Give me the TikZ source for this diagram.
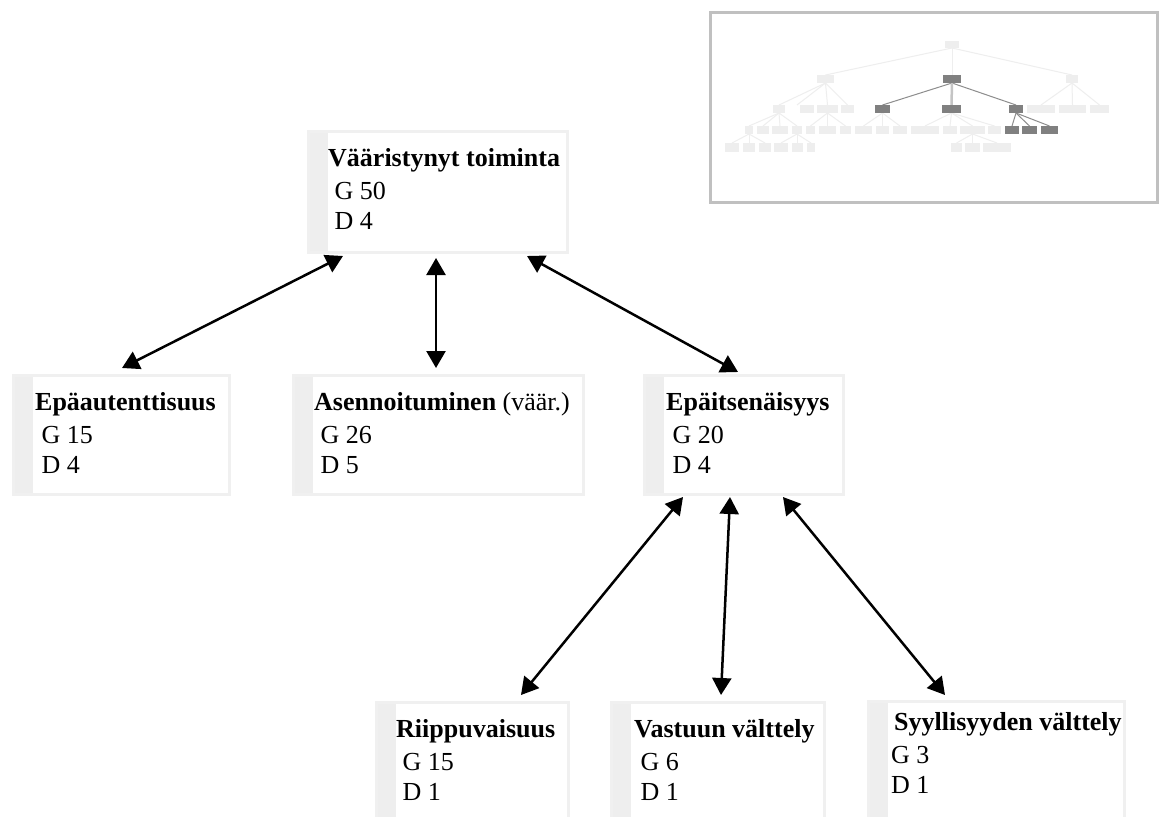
\documentclass[tikz,border=0pt]{standalone}
\usepackage{fontspec}
\setmainfont{Liberation Serif}
\usetikzlibrary{arrows.meta,calc}
\definecolor{boxline}{HTML}{F0F0F0}
\definecolor{stripc}{HTML}{EEEEEE}
\definecolor{mmlight}{HTML}{EEEEEE}
\definecolor{mmdark}{HTML}{808080}
\definecolor{mmframe}{HTML}{C0C0C0}
\definecolor{mmmid}{HTML}{C4C4C4}
\newcommand{\ind}{\hspace*{6.5pt}}
\newcommand{\boxtext}[6]{%
  \node[ctext] (#1t) at ($(#1.north west)+(#2,#3)$) {#4};
  \node[ctext] (#1g) at ($(#1.north west)+(#2,#3+33)$) {#5};
  \node[ctext] (#1d) at ($(#1.north west)+(#2,#3+63)$) {#6};
}
\tikzset{
  cbox/.style={draw=boxline, line width=3pt, fill=white, rectangle, anchor=north west, inner sep=0pt,
    path picture={\fill[stripc] (path picture bounding box.north west) rectangle ([xshift=19pt]path picture bounding box.south west);}},
  ctext/.style={anchor=base west, inner sep=0pt, font=\fontsize{26}{31}\selectfont},
  biarrow/.style={line width=2.5pt, {Triangle[length=17pt,width=19pt]}-{Triangle[length=17pt,width=19pt]}},
  mmbox/.style={fill=mmlight},
  mmdbox/.style={fill=mmdark},
  mmline/.style={draw=mmlight, line width=1pt},
  mmdline/.style={draw=mmdark!90, line width=1pt},
}
\begin{document}
\begin{tikzpicture}[x=1pt,y=-1pt]
\useasboundingbox (0,0) rectangle (1161,816);
\clip (0,0) rectangle (1161,816);
\fill[white] (0,0) rectangle (1161,816);

% ---------- minimap ----------
\draw[draw=mmframe, line width=3pt, fill=white] (710,13) rectangle (1157,202);
% edges
\foreach \x in {825.5,1072} \draw[mmline] (952,48) -- (\x,75);
\draw[mmline] (952,48) -- (952,75);
\foreach \x in {779,797,827.5,847.5} \draw[mmline] (825.5,83) -- (\x,105);
\foreach \x in {1041,1072.5,1099.5} \draw[mmline] (1072,83) -- (\x,105);
\draw[mmdline] (952,83) -- (882.5,105);
\draw[mmdline] (952,83) -- (1016,105);
\draw[draw=mmmid, line width=2.5pt] (952,83) -- (951.5,105);
\foreach \x in {749,763,780,797} \draw[mmline] (779,113) -- (\x,126);
\foreach \x in {732,749,765} \draw[mmline] (749,134) -- (\x,143);
\foreach \x in {781,797,811} \draw[mmline] (797,134) -- (\x,143);
\foreach \x in {810.5,827.5,845.5} \draw[mmline] (827.5,113) -- (\x,126);
\foreach \x in {863.5,882.5,900} \draw[mmline] (882.5,113) -- (\x,126);
\foreach \x in {925,950,972.5,994.5} \draw[mmline] (951.5,113) -- (\x,126);
\foreach \x in {956.5,972.5,997} \draw[mmline] (972.5,134) -- (\x,143);
\foreach \x in {1012,1029.5,1049.5} \draw[mmdline] (1016,113) -- (\x,126);
% boxes
\fill[mmbox] (945,41) rectangle (959,48);
\fill[mmbox] (817,75) rectangle (834,83);
\fill[mmdbox] (943,75) rectangle (961,83);
\fill[mmbox] (1066,75) rectangle (1078,83);
\foreach \a/\b in {773/785,800/814,817/838,841/854,1027/1055,1059/1086,1090/1109}
  \fill[mmbox] (\a,105) rectangle (\b,113);
\foreach \a/\b in {875/890,942/961,1009/1023}
  \fill[mmdbox] (\a,105) rectangle (\b,113);
\foreach \a/\b in {745/753,757/769,772/788,792/802,806/815,819/836,840/851,855/872,876/889,893/907,911/939,943/957,960/985,988/1001}
  \fill[mmbox] (\a,126) rectangle (\b,134);
\foreach \a/\b in {1005/1019,1022/1037,1041/1058}
  \fill[mmdbox] (\a,126) rectangle (\b,134);
\foreach \a/\b in {725/739,743/755,759/771,774/788,792/803,807/815,951/962,965/980,983/1011}
  \fill[mmbox] (\a,143) rectangle (\b,152);

% ---------- boxes ----------
\node[cbox, minimum width=259pt, minimum height=121pt] (v)  at (307,130) {};
\node[cbox, minimum width=216pt, minimum height=119pt] (ea) at (12,374) {};
\node[cbox, minimum width=290pt, minimum height=119pt] (as) at (292,374) {};
\node[cbox, minimum width=199pt, minimum height=119pt] (ei) at (643,374) {};
\node[cbox, minimum width=192pt, minimum height=140pt] (ri) at (375,701) {};
\node[cbox, minimum width=213pt, minimum height=140pt] (va) at (610,701) {};
\node[cbox, minimum width=256pt, minimum height=140pt] (sy) at (867,700) {};

\boxtext{v}{21}{36}{\textbf{Vääristynyt toiminta}}{\ind G 50}{\ind D 4}
\boxtext{ea}{23}{36}{\textbf{Epäautenttisuus}}{\ind G 15}{\ind D 4}
\boxtext{as}{22}{36}{\textbf{Asennoituminen} (väär.)}{\ind G 26}{\ind D 5}
\boxtext{ei}{23}{36}{\textbf{Epäitsenäisyys}}{\ind G 20}{\ind D 4}
\boxtext{ri}{21}{36}{\textbf{Riippuvaisuus}}{\ind G 15}{\ind D 1}
\boxtext{va}{24}{36}{\textbf{Vastuun välttely}}{\ind G 6}{\ind D 1}
\boxtext{sy}{24}{30}{\hspace*{3pt}\textbf{Syyllisyyden välttely}}{G 3}{D 1}

% ---------- connectors ----------
\draw[biarrow] ($(v.south west)+(36,2)$) -- ($(ea.north west)+(110,-6)$);
\draw[biarrow] ($(v.south west)+(129,4)$) -- ($(as.north west)+(144,-6)$);
\draw[biarrow] ($(v.south west)+(220,2)$) -- ($(ei.north west)+(95,-2)$);
\draw[biarrow] ($(ei.south west)+(40,1)$) -- ($(ri.north west)+(146,-6)$);
\draw[biarrow] ($(ei.south west)+(87,1)$) -- ($(va.north west)+(111,-6)$);
\draw[biarrow] ($(ei.south west)+(140,1)$) -- ($(sy.north west)+(78,-5)$);
\end{tikzpicture}
\end{document}
